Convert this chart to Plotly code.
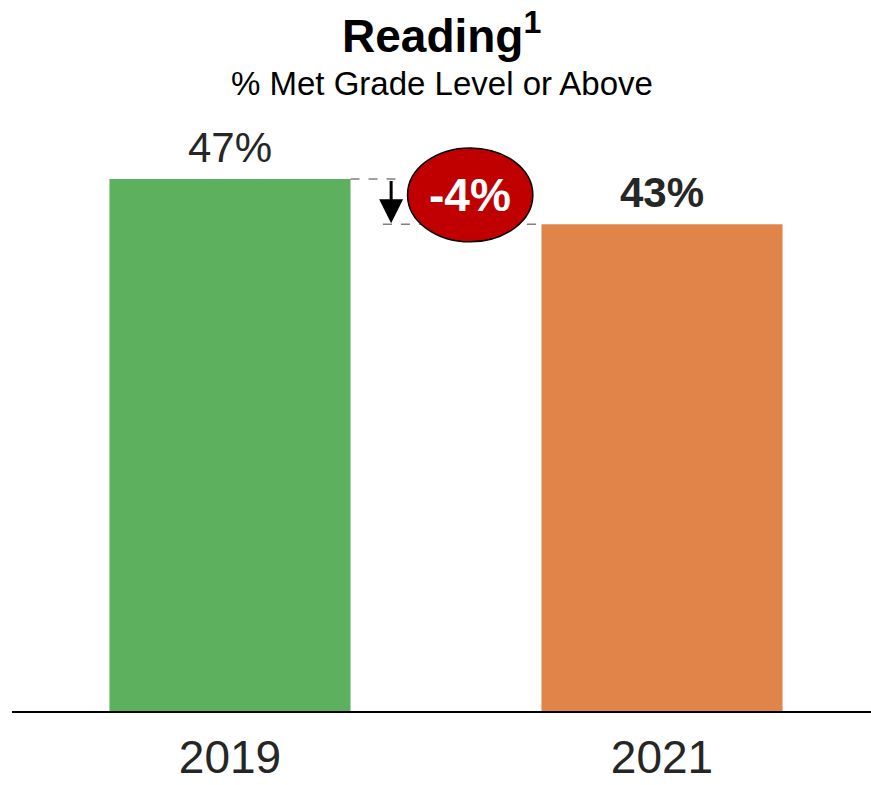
import plotly.graph_objects as go

years = ["2019", "2021"]
values = [47, 43]
bar_colors = ["#5DB05E", "#E1844A"]
value_labels = ["47%", "43%"]
change_label = "-4%"
title_text = "Reading<sup>1</sup>"
subtitle_text = "% Met Grade Level or Above"

FONT = "Liberation Sans, Arial"
xpos = list(range(len(years)))
bw = 0.558

fig = go.Figure()
fig.add_trace(go.Bar(
    x=xpos, y=values, width=bw,
    marker=dict(color=bar_colors, line=dict(width=0)),
    hoverinfo="skip",
))

# value labels
for i, (v, lab) in enumerate(zip(values, value_labels)):
    fig.add_annotation(
        x=xpos[i], y=v, xref="x", yref="y", text=(f"<b>{lab}</b>" if i == 1 else lab),
        showarrow=False, yanchor="bottom", yshift=6,
        font=dict(family=FONT, size=42, color="#262626"),
    )

# dashed reference lines
fig.add_shape(type="line", xref="x", yref="y",
              x0=xpos[0] + bw / 2, x1=0.40, y0=values[0], y1=values[0],
              line=dict(color="#808080", width=1.5, dash="dash"))
fig.add_shape(type="line", xref="x", yref="y",
              x0=0.354, x1=xpos[1] - bw / 2, y0=values[1], y1=values[1],
              line=dict(color="#808080", width=1.5, dash="dash"))

# down arrow
fig.add_annotation(
    x=0.373, y=values[1] + 0.1, ax=0.373, ay=values[0] - 0.05,
    xref="x", yref="y", axref="x", ayref="y",
    showarrow=True, arrowhead=2, arrowsize=1.6, arrowwidth=3, arrowcolor="black", text="",
)

# ellipse with change
cx, cy = 0.556, (values[0] + values[1]) / 2 + 0.6
fig.add_shape(type="circle", xref="x", yref="y",
              x0=cx - 0.145, x1=cx + 0.145, y0=cy - 4.15, y1=cy + 4.15,
              fillcolor="#C00000", line=dict(color="black", width=1.5))
fig.add_annotation(x=cx, y=cy, xref="x", yref="y", text=f"<b>{change_label}</b>",
                   showarrow=False, font=dict(family=FONT, size=46, color="white"))

# titles
fig.add_annotation(x=0.5, y=1.0, xref="paper", yref="paper", xanchor="center",
                   yanchor="bottom", yshift=46, text=f"<b>{title_text}</b>", showarrow=False,
                   font=dict(family=FONT, size=46, color="black"))
fig.add_annotation(x=0.5, y=1.0, xref="paper", yref="paper", xanchor="center",
                   yanchor="bottom", yshift=6, text=subtitle_text, showarrow=False,
                   font=dict(family=FONT, size=33, color="black"))

fig.update_layout(
    width=871, height=785,
    margin=dict(l=12, r=0, t=110, b=74, autoexpand=False),
    paper_bgcolor="white", plot_bgcolor="white",
    showlegend=False,
    xaxis=dict(range=[-0.5046, 1.4838], tickvals=xpos, ticktext=years,
               showline=True, linecolor="black", linewidth=2, showgrid=False,
               zeroline=False, ticks="", ticklabelstandoff=5, automargin=False,
               tickfont=dict(family=FONT, size=46, color="#262626")),
    yaxis=dict(range=[0, 53.1], visible=False, showgrid=False, zeroline=False,
               automargin=False),
)

fig.write_html("out.html")
